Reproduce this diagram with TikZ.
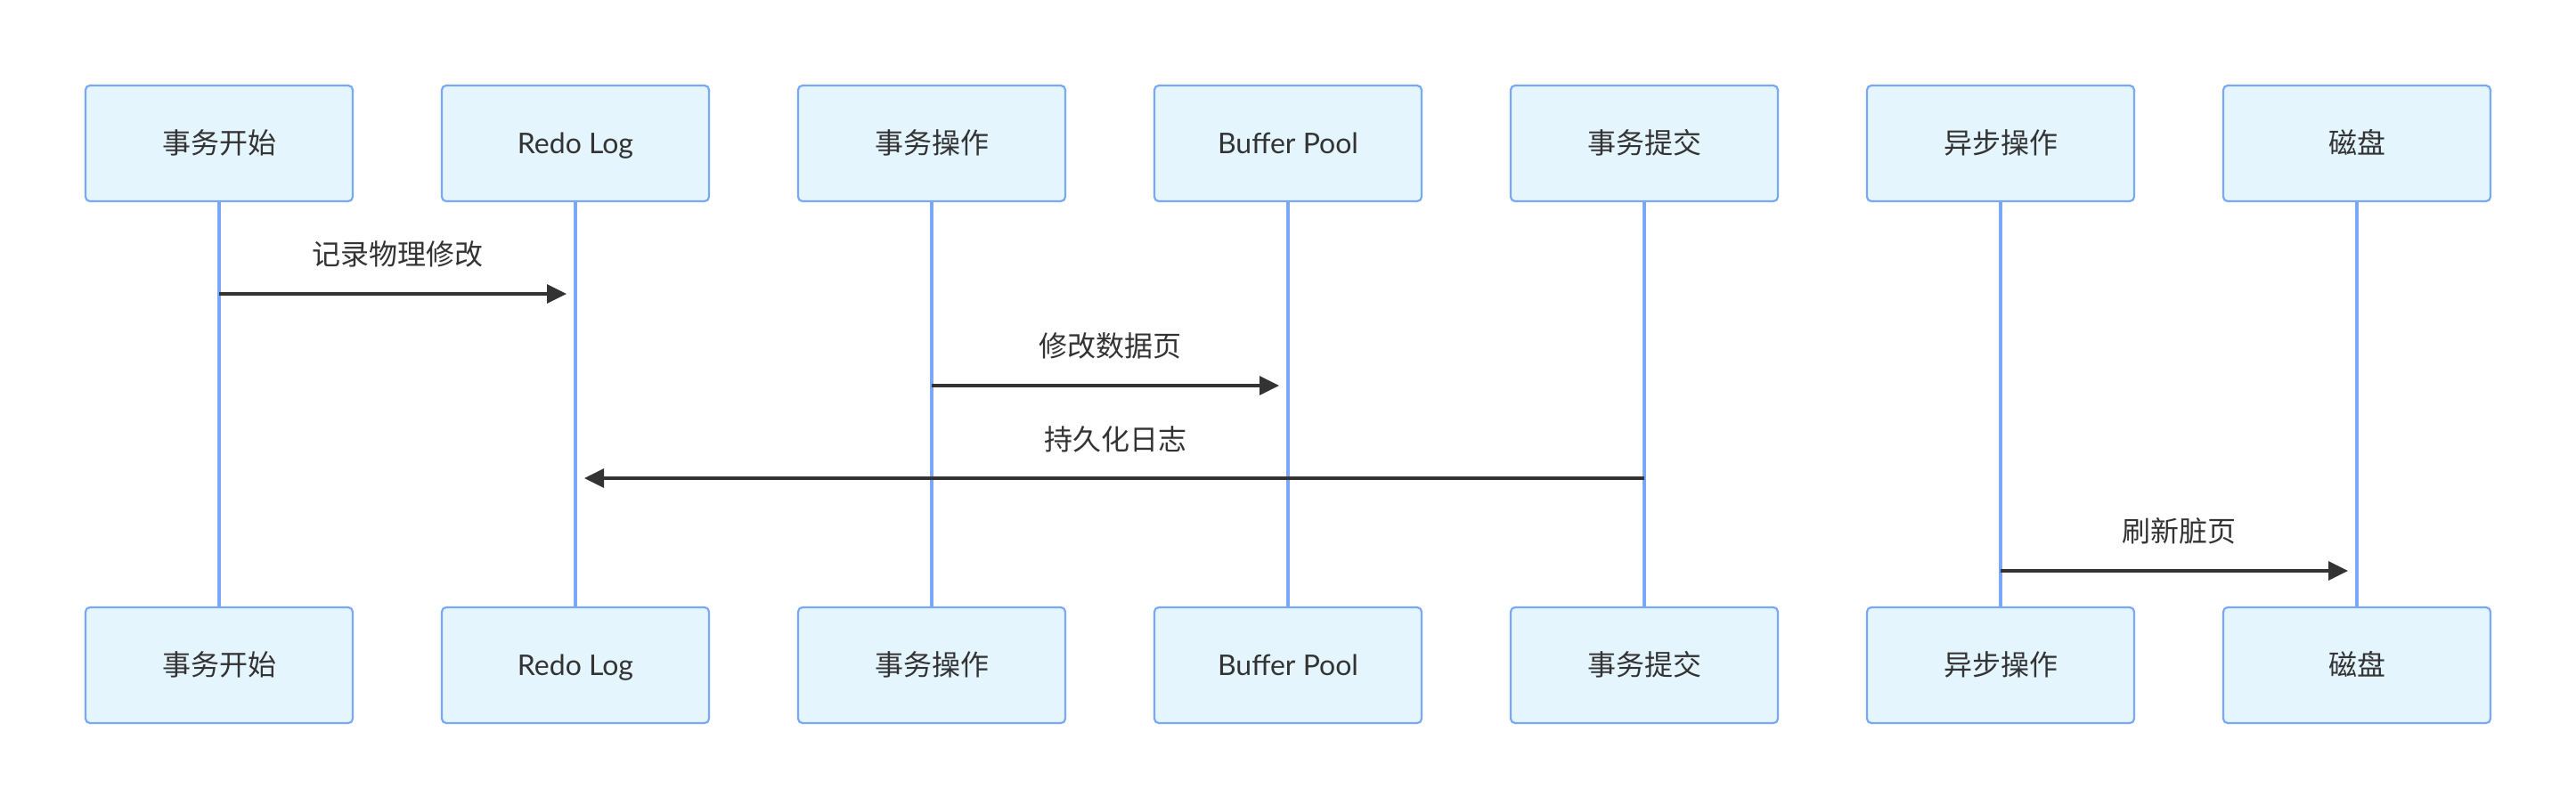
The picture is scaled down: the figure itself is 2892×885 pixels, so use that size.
\documentclass[tikz,border=0pt]{standalone}
\usepackage{fontspec}
\setmainfont{Lato}
\newfontfamily\cjk{Noto Sans CJK SC}
\usetikzlibrary{arrows.meta}
\definecolor{boxfill}{HTML}{E4F5FD}
\definecolor{boxline}{HTML}{7BA7F7}
\definecolor{txt}{HTML}{333333}
\begin{document}
\begin{tikzpicture}[x=0.5pt,y=-0.5pt,
  actor/.style={draw=boxline,fill=boxfill,line width=1.1pt,rounded corners=2.5pt,
    minimum width=150pt,minimum height=65pt,inner sep=0pt,text=txt,
    text height=13.1pt,text depth=1.6pt,
    font=\fontsize{16}{19}\selectfont},
  life/.style={draw=boxline,line width=2pt},
  msg/.style={draw=txt,line width=1.7pt,-{Triangle[length=11pt,width=10.5pt]},shorten >=5pt},
  msglabel/.style={text=txt,font=\fontsize{16}{19}\selectfont\cjk,inner sep=0pt,
    text height=13.1pt,text depth=1.6pt}]
\useasboundingbox (0,0) rectangle (2892,885);
\fill[white] (0,0) rectangle (2892,885);
% actors
\foreach \i/\x/\t in {1/246/{\cjk 事务开始},2/646/{Redo Log},3/1046/{\cjk 事务操作},4/1446/{Buffer Pool},5/1846/{\cjk 事务提交},6/2246/{\cjk 异步操作},7/2646/{\cjk 磁盘}}{
  \node[actor] (t\i) at (\x,161) {\t};
  \node[actor] (b\i) at (\x,747) {\t};
}
% lifelines
\foreach \i in {1,...,7}{
  \draw[life] (t\i.south) -- (b\i.north);
}
% message anchor points on lifelines
\coordinate (m1s) at (t1.south |- 0,330);
\coordinate (m1e) at (t2.south |- 0,330);
\coordinate (m2s) at (t3.south |- 0,433);
\coordinate (m2e) at (t4.south |- 0,433);
\coordinate (m3s) at (t5.south |- 0,537);
\coordinate (m3e) at (t2.south |- 0,537);
\coordinate (m4s) at (t6.south |- 0,641);
\coordinate (m4e) at (t7.south |- 0,641);
% messages
\draw[msg] (m1s) -- (m1e);
\draw[msg] (m2s) -- (m2e);
\draw[msg] (m3s) -- (m3e);
\draw[msg] (m4s) -- (m4e);
% labels
\node[msglabel] (l1) at (446,286) {记录物理修改};
\node[msglabel] (l2) at (1246,389) {修改数据页};
\node[msglabel] (l3) at (1252,494) {持久化日志};
\node[msglabel] (l4) at (2446,597) {刷新脏页};
\end{tikzpicture}
\end{document}
